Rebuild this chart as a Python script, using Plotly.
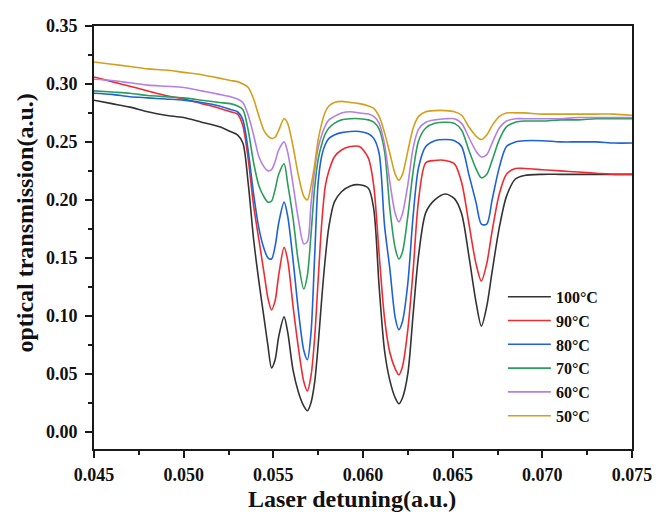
import plotly.graph_objects as go

# Laser detuning (a.u.) sample positions
detuning = [0.0450, 0.0460, 0.0470, 0.0480, 0.0490, 0.0500, 0.0510, 0.0520,
            0.0526, 0.0530, 0.0533, 0.0536, 0.0539, 0.0542, 0.0545, 0.0547,
            0.0549, 0.0551, 0.0553, 0.0556, 0.0558, 0.0561, 0.0564, 0.0567,
            0.0569, 0.0571, 0.0573, 0.0575, 0.0577, 0.0579, 0.0581, 0.0584,
            0.0588, 0.0593, 0.0598, 0.0603, 0.0606, 0.0609, 0.0612, 0.0615,
            0.0618, 0.0620, 0.0622, 0.0625, 0.0628, 0.0631, 0.0635, 0.0640,
            0.0646, 0.0651, 0.0655, 0.0659, 0.0663, 0.0666, 0.0669, 0.0672,
            0.0676, 0.0680, 0.0685, 0.0690, 0.0700, 0.0710, 0.0720, 0.0730,
            0.0740, 0.0750]

t100 = [0.286, 0.283, 0.280, 0.276, 0.273, 0.271, 0.267, 0.263,
        0.259, 0.256, 0.249, 0.214, 0.166, 0.129, 0.096, 0.074,
        0.055, 0.062, 0.082, 0.099, 0.086, 0.053, 0.034, 0.022,
        0.018, 0.025, 0.042, 0.075, 0.115, 0.150, 0.177, 0.198,
        0.207, 0.212, 0.213, 0.210, 0.192, 0.125, 0.070, 0.044,
        0.029, 0.024, 0.029, 0.050, 0.102, 0.152, 0.189, 0.200,
        0.205, 0.201, 0.188, 0.152, 0.112, 0.091, 0.108, 0.138,
        0.176, 0.203, 0.218, 0.221, 0.222, 0.222, 0.222, 0.222,
        0.222, 0.222]

t90 = [0.306, 0.302, 0.298, 0.294, 0.290, 0.287, 0.283, 0.279,
       0.276, 0.274, 0.264, 0.235, 0.195, 0.165, 0.135, 0.115,
       0.105, 0.113, 0.135, 0.159, 0.148, 0.108, 0.072, 0.043,
       0.035, 0.048, 0.080, 0.131, 0.180, 0.212, 0.225, 0.237,
       0.243, 0.246, 0.246, 0.236, 0.212, 0.153, 0.098, 0.068,
       0.054, 0.049, 0.056, 0.088, 0.140, 0.200, 0.232, 0.234,
       0.234, 0.231, 0.215, 0.180, 0.145, 0.130, 0.145, 0.173,
       0.205, 0.222, 0.227, 0.227, 0.226, 0.225, 0.224, 0.223,
       0.222, 0.222]

t80 = [0.292, 0.291, 0.289, 0.288, 0.287, 0.286, 0.284, 0.281,
       0.278, 0.276, 0.269, 0.242, 0.205, 0.175, 0.157, 0.150,
       0.149, 0.160, 0.180, 0.198, 0.186, 0.148, 0.104, 0.070,
       0.062, 0.085, 0.150, 0.215, 0.238, 0.248, 0.253, 0.256,
       0.258, 0.259, 0.259, 0.257, 0.253, 0.240, 0.178, 0.140,
       0.098, 0.088, 0.095, 0.128, 0.187, 0.228, 0.246, 0.251,
       0.252, 0.251, 0.246, 0.222, 0.198, 0.179, 0.179, 0.200,
       0.228, 0.246, 0.250, 0.251, 0.251, 0.250, 0.250, 0.250,
       0.249, 0.249]

t70 = [0.294, 0.293, 0.292, 0.290, 0.289, 0.288, 0.286, 0.284,
       0.283, 0.281, 0.278, 0.260, 0.232, 0.212, 0.202, 0.198,
       0.199, 0.209, 0.222, 0.231, 0.214, 0.184, 0.146, 0.123,
       0.135, 0.170, 0.210, 0.235, 0.248, 0.257, 0.262, 0.266,
       0.269, 0.270, 0.270, 0.269, 0.267, 0.261, 0.242, 0.192,
       0.158, 0.149, 0.155, 0.186, 0.225, 0.251, 0.262, 0.266,
       0.267, 0.266, 0.260, 0.243, 0.227, 0.219, 0.222, 0.234,
       0.252, 0.263, 0.267, 0.268, 0.268, 0.269, 0.269, 0.270,
       0.270, 0.270]

t60 = [0.304, 0.303, 0.301, 0.299, 0.298, 0.297, 0.294, 0.291,
       0.289, 0.287, 0.284, 0.273, 0.256, 0.237, 0.228, 0.225,
       0.226, 0.233, 0.243, 0.250, 0.241, 0.213, 0.183, 0.162,
       0.164, 0.196, 0.225, 0.245, 0.256, 0.264, 0.269, 0.272,
       0.275, 0.276, 0.275, 0.274, 0.272, 0.266, 0.248, 0.215,
       0.188, 0.181, 0.188, 0.213, 0.245, 0.261, 0.267, 0.269,
       0.270, 0.270, 0.266, 0.254, 0.242, 0.237, 0.239, 0.249,
       0.262, 0.268, 0.270, 0.270, 0.270, 0.270, 0.271, 0.271,
       0.271, 0.271]

t50 = [0.319, 0.317, 0.315, 0.313, 0.312, 0.310, 0.308, 0.305,
       0.303, 0.302, 0.300, 0.297, 0.287, 0.272, 0.259, 0.255,
       0.253, 0.254, 0.260, 0.270, 0.266, 0.246, 0.221, 0.203,
       0.200, 0.212, 0.230, 0.252, 0.266, 0.276, 0.281, 0.284,
       0.285, 0.284, 0.283, 0.281, 0.279, 0.272, 0.258, 0.240,
       0.222, 0.217, 0.222, 0.242, 0.262, 0.272, 0.276, 0.277,
       0.277, 0.276, 0.273, 0.263, 0.255, 0.252, 0.256, 0.264,
       0.272, 0.275, 0.275, 0.275, 0.274, 0.274, 0.274, 0.274,
       0.274, 0.273]

series_names = ["100°C", "90°C", "80°C", "70°C", "60°C", "50°C"]
series_values = [t100, t90, t80, t70, t60, t50]
series_colors = ["#333333", "#ef2b32", "#1f62d6", "#2a9d5a", "#b67fe3", "#d4a01c"]

x_ticks = [0.045, 0.050, 0.055, 0.060, 0.065, 0.070, 0.075]
y_ticks = [0.00, 0.05, 0.10, 0.15, 0.20, 0.25, 0.30, 0.35]

FONT = "Liberation Serif, Times New Roman, serif"
AX = "#1a1a1a"

fig = go.Figure()
for name, vals, col in zip(series_names, series_values, series_colors):
    fig.add_trace(go.Scatter(
        x=detuning, y=vals, mode="lines", name=name,
        line=dict(color=col, width=1.6, shape="spline", smoothing=0.8),
    ))

axis_common = dict(
    showline=True, linecolor=AX, linewidth=1.6, mirror=True,
    showgrid=False, zeroline=False,
    ticks="outside", ticklen=7, tickwidth=1.5, tickcolor=AX,
    tickfont=dict(family=FONT, size=18, color="#111", weight="bold"),
)

# page body has an 8px default margin, so the figure is sized to fit the window
fig.update_layout(
    width=655, height=508,
    margin=dict(l=86, r=31, t=8, b=67),
    paper_bgcolor="white", plot_bgcolor="white",
    xaxis=dict(range=[0.045, 0.075], tickvals=x_ticks, tickformat=".3f",
               minor=dict(ticks="outside", ticklen=4, tickwidth=1.5, tickcolor=AX, dtick=0.0025, showgrid=False),
               ticklabelstandoff=2,
               **axis_common),
    yaxis=dict(range=[-0.015, 0.35], tickvals=y_ticks, tickformat=".2f",
               minor=dict(ticks="outside", ticklen=4, tickwidth=1.5, tickcolor=AX, dtick=0.025, tick0=0, showgrid=False),
               ticklabelstandoff=4,
               **axis_common),
    showlegend=True,
    legend=dict(x=0.76, y=0.40, xanchor="left", yanchor="top",
                bgcolor="rgba(0,0,0,0)", borderwidth=0,
                font=dict(family=FONT, size=16, color="#111", weight="bold"),
                tracegroupgap=0, itemwidth=43),
    annotations=[
        dict(text="Laser detuning(a.u.)", xref="paper", yref="paper",
             x=0.48, y=-0.118, xanchor="center", yanchor="middle", showarrow=False,
             font=dict(family=FONT, size=24, color="#111", weight="bold")),
        dict(text="optical transmission(a.u.)", xref="paper", yref="paper",
             x=-0.13, y=0.533, xanchor="center", yanchor="middle", showarrow=False,
             textangle=-90,
             font=dict(family=FONT, size=24, color="#111", weight="bold")),
    ],
)

fig.write_html("out.html")
